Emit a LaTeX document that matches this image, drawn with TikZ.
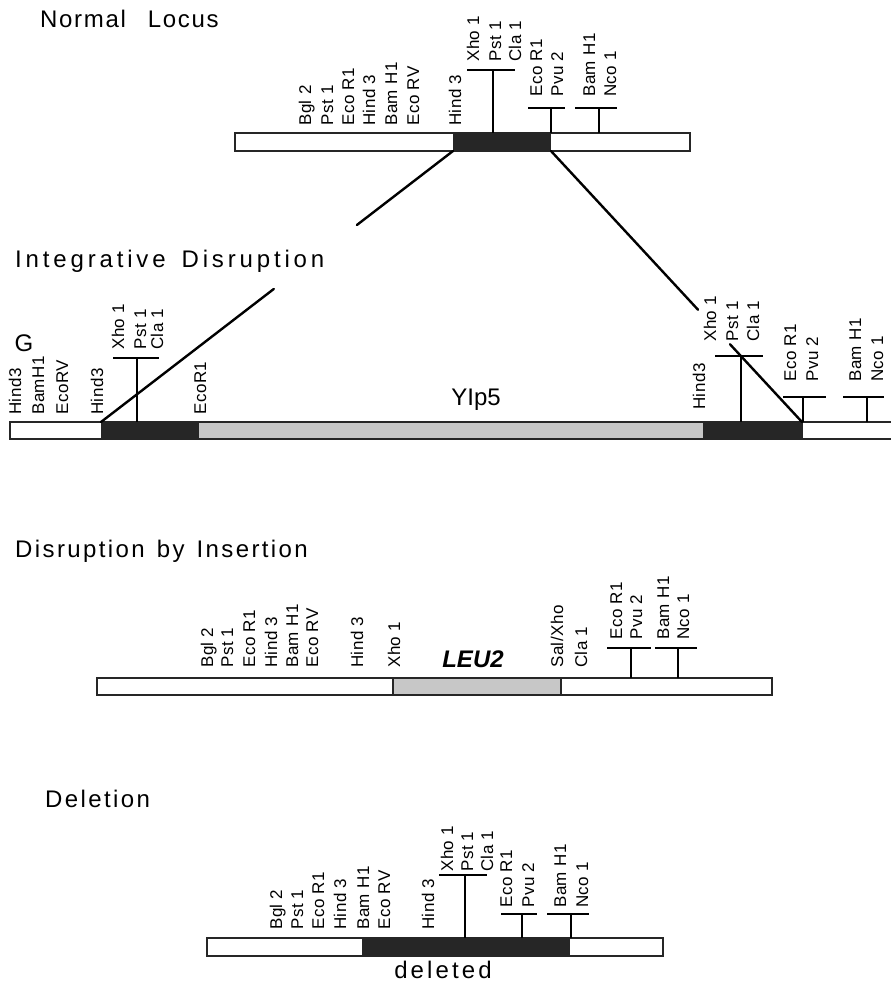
\documentclass[tikz,border=0pt]{standalone}
\usepackage{fontspec}
\setmainfont{Liberation Sans}
\newfontfamily\sitefont[LetterSpace=3]{Liberation Sans}
\newfontfamily\headfont[LetterSpace=10]{Liberation Sans}
\usetikzlibrary{calc}
\tikzset{
  site/.style={rotate=90, anchor=base west, inner sep=0pt,
    font=\sitefont\fontsize{17}{20}\selectfont},
  head/.style={anchor=base west, inner sep=0pt,
    font=\headfont\fontsize{24}{28}\selectfont},
  dnabar/.style={draw=black!85, line width=1.3pt},
  blkseg/.style={fill=black!85},
  vecseg/.style={fill=black!22},
  tick/.style={line width=2pt},
  joinline/.style={line width=2.4pt, line cap=round},
}

\begin{document}
\begin{tikzpicture}[x=1pt, y=-1pt]
  \useasboundingbox (0,0) rectangle (891,984);

  % ---------- Normal Locus ----------
  \node[head] (hNormal) at (40,28) {\addfontfeature{LetterSpace=7}Normal\hspace{22pt}Locus};
  \fill[white] (235,133) rectangle (690,151);
  \fill[blkseg] (453,133) rectangle (551,151);
  \draw[dnabar] (235,133) rectangle (690,151);
  \draw[tick] (493,133) -- (493,70) (467,70) -- (515,70);
  \draw[tick] (551,133) -- (551,108) (528,108) -- (565,108);
  \draw[tick] (599,133) -- (599,108) (575,108) -- (617,108);
  \foreach \x/\t [count=\i] in {305/Bgl 2, 327/Pst 1, 348/Eco R1, 369/Hind 3,
      391/Bam H1, 413/Eco RV, 455/Hind 3}
    \node[site] (nA\i) at (\x+6,126) {\t};
  \foreach \x/\t [count=\i] in {473/Xho 1, 495/Pst 1, 515/Cla 1}
    \node[site] (nB\i) at (\x+6,62) {\t};
  \foreach \x/\t [count=\i] in {536/Eco R1, 557/Pvu 2, 589/Bam H1, 610/Nco 1}
    \node[site] (nC\i) at (\x+6,97) {\t};

  % ---------- Integrative Disruption ----------
  \node[head] (hInteg) at (15,267) {\addfontfeature{LetterSpace=16}Integrative\hspace{16pt}Disruption};
  \node[font=\fontsize{24}{28}\selectfont, inner sep=0pt] (gMark) at (24,343) {G};
  \fill[white] (10,422) rectangle (101,439);
  \fill[blkseg] (101,422) rectangle (199,439);
  \fill[vecseg] (199,422) rectangle (703,439);
  \fill[blkseg] (703,422) rectangle (803,439);
  \draw[dnabar] (803,422) -- (10,422) -- (10,439) -- (803,439);
  \draw[dnabar] (803,422) -- (891,422) (803,439) -- (891,439);
  \node[font=\fontsize{24}{28}\selectfont, inner sep=0pt, anchor=base] (yip) at (476,405) {YIp5};
  \draw[tick] (137,422) -- (137,358) (113,358) -- (159,358);
  \draw[tick] (741,422) -- (741,356) (715,356) -- (763,356);
  \draw[tick] (803,422) -- (803,397) (783,397) -- (826,397);
  \draw[tick] (867,422) -- (867,397) (843,397) -- (884,397);
  \foreach \x/\t [count=\i] in {15/Hind3, 38/BamH1, 62/EcoRV, 97/Hind3, 200/EcoR1}
    \node[site] (iA\i) at (\x+6,415) {\t};
  \foreach \x/\t [count=\i] in {118/Xho 1, 140/Pst 1, 157/Cla 1}
    \node[site] (iB\i) at (\x+6,350) {\t};
  \node[site] (iC1) at (699+6,410) {Hind3};
  \foreach \x/\t [count=\i] in {710/Xho 1, 732/Pst 1, 753/Cla 1}
    \node[site] (iD\i) at (\x+6,342) {\t};
  \foreach \x/\t [count=\i] in {790/Eco R1, 812/Pvu 2, 855/Bam H1, 877/Nco 1}
    \node[site] (iE\i) at (\x+6,382) {\t};

  % crossover lines
  \coordinate (nlL) at (453,151);
  \coordinate (nlR) at (551,151);
  \coordinate (idL) at (101,422);
  \coordinate (idR) at (802,422);
  \draw[joinline] (nlL) -- ($(nlL)!0.273!(idL)$);
  \draw[joinline] ($(nlL)!0.509!(idL)$) -- (idL);
  \draw[joinline] (nlR) -- ($(nlR)!0.586!(idR)$);
  \draw[joinline] ($(nlR)!0.713!(idR)$) -- (idR);

  % ---------- Disruption by Insertion ----------
  \node[head] (hInsert) at (15,557) {Disruption\hspace{12pt}by\hspace{12pt}Insertion};
  \fill[white] (97,678) rectangle (772,695);
  \fill[vecseg] (393,678) rectangle (561,695);
  \draw[dnabar] (97,678) rectangle (772,695);
  \draw[dnabar] (393,678) -- (393,695) (561,678) -- (561,695);
  \node[font=\bfseries\itshape\fontsize{24}{28}\selectfont, inner sep=0pt,
        anchor=base] (leu) at (473,667) {LEU2};
  \draw[tick] (631,678) -- (631,648) (607,648) -- (651,648);
  \draw[tick] (678,678) -- (678,648) (655,648) -- (697,648);
  \foreach \x/\t [count=\i] in {207/Bgl 2, 227/Pst 1, 249/Eco R1, 271/Hind 3,
      292/Bam H1, 312/Eco RV, 357/Hind 3, 394/Xho 1, 557/{Sal/Xho}, 581/Cla 1}
    \node[site] (dA\i) at (\x+6,668) {\t};
  \foreach \x/\t [count=\i] in {616/Eco R1, 636/Pvu 2, 663/Bam H1, 683/Nco 1}
    \node[site] (dB\i) at (\x+6,640) {\t};

  % ---------- Deletion ----------
  \node[head] (hDel) at (45,807) {Deletion};
  \fill[white] (207,938) rectangle (663,956);
  \fill[blkseg] (362,938) rectangle (570,956);
  \draw[dnabar] (207,938) rectangle (663,956);
  \draw[tick] (465,938) -- (465,875) (439,875) -- (487,875);
  \draw[tick] (522,938) -- (522,914) (501,914) -- (537,914);
  \draw[tick] (571,938) -- (571,914) (547,914) -- (589,914);
  \foreach \x/\t [count=\i] in {276/Bgl 2, 297/Pst 1, 318/Eco R1, 340/Hind 3,
      363/Bam H1, 384/Eco RV, 428/Hind 3}
    \node[site] (eA\i) at (\x+6,930) {\t};
  \foreach \x/\t [count=\i] in {447/Xho 1, 467/Pst 1, 487/Cla 1}
    \node[site] (eB\i) at (\x+6,872) {\t};
  \foreach \x/\t [count=\i] in {506/Eco R1, 528/Pvu 2, 560/Bam H1, 582/Nco 1}
    \node[site] (eC\i) at (\x+6,908) {\t};
  \node[head, anchor=base] (delText) at (443,978) {\addfontfeature{LetterSpace=13}deleted};
\end{tikzpicture}
\end{document}
